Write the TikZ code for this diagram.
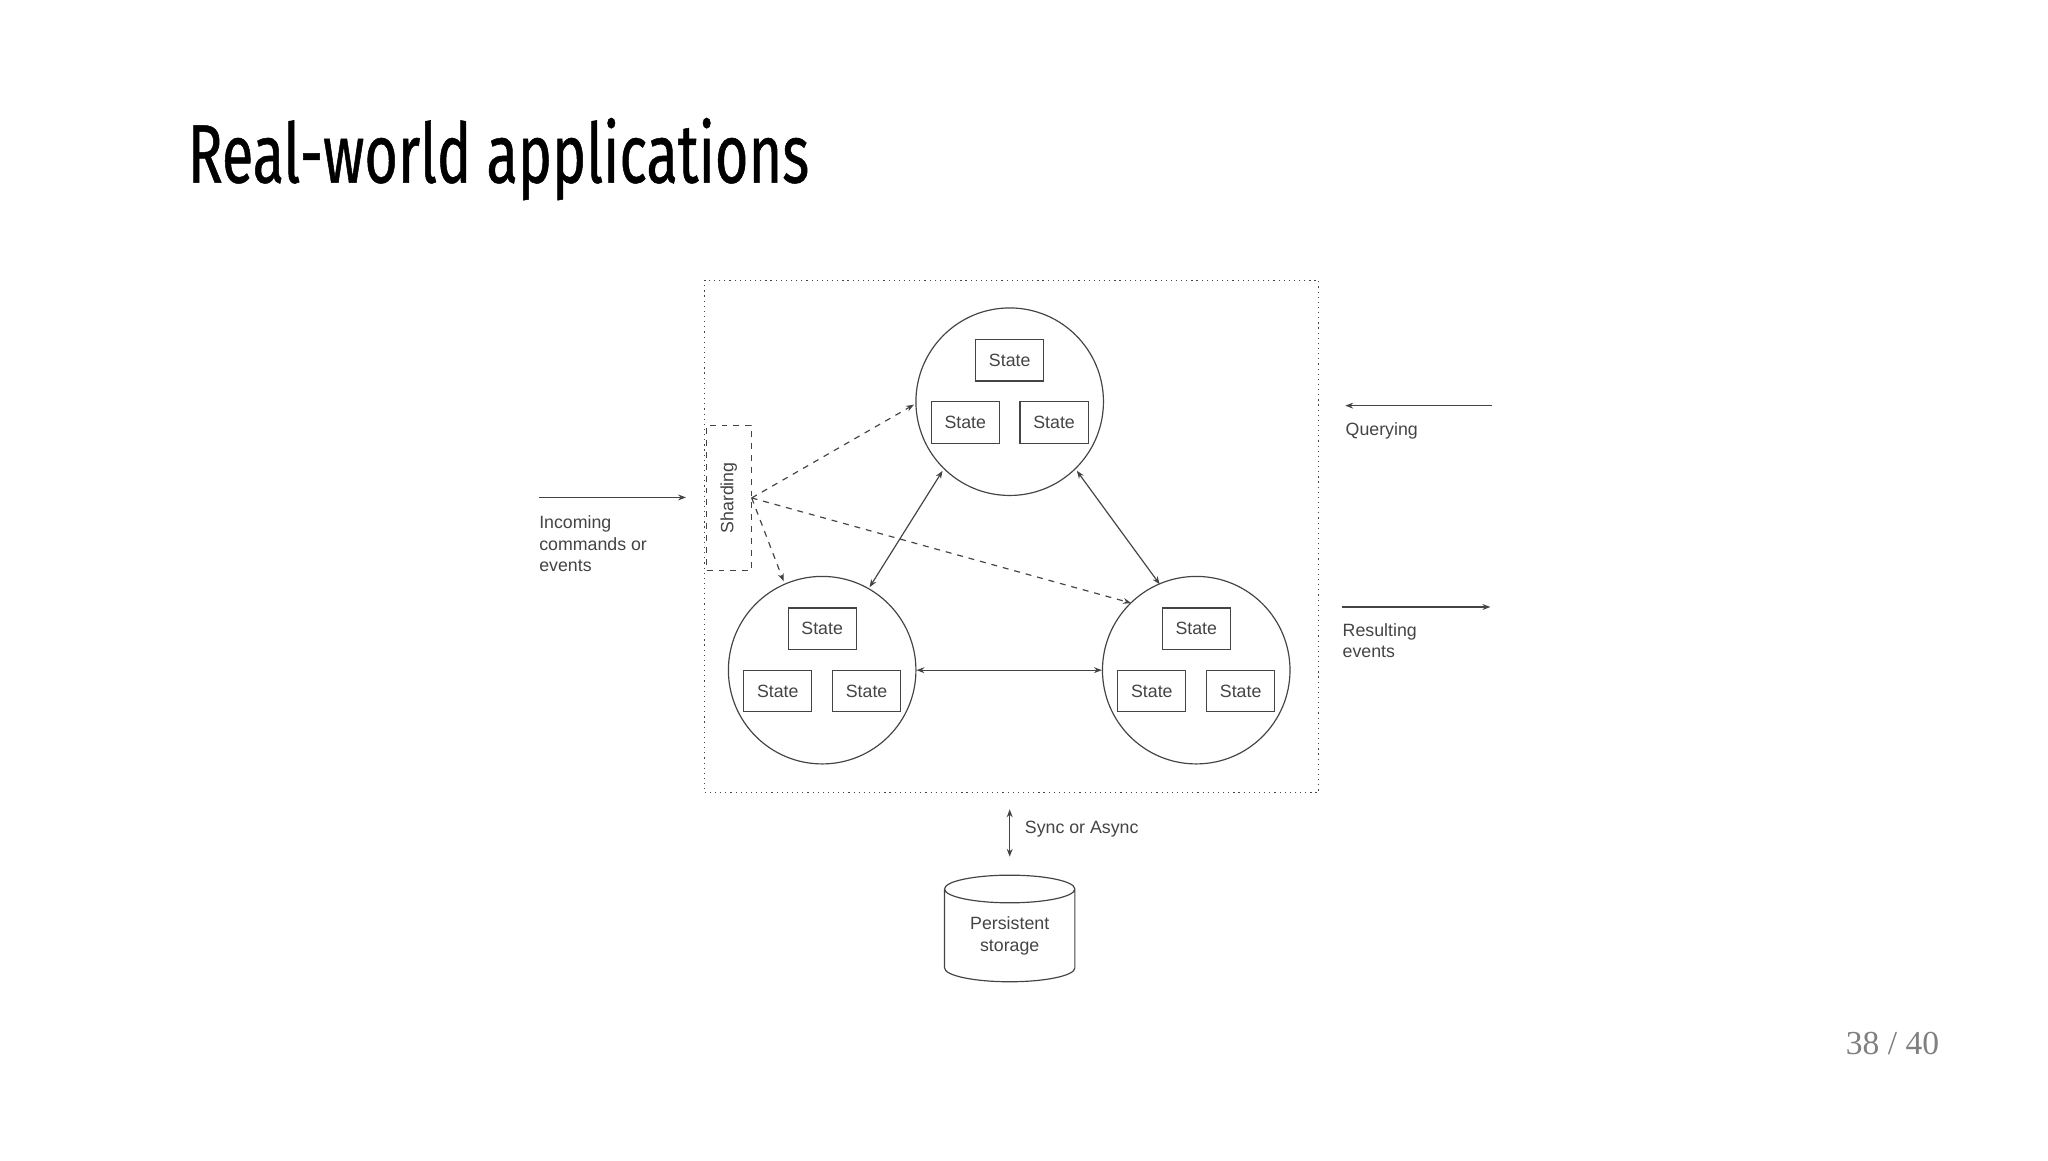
\documentclass[tikz,border=0pt]{standalone}
\usepackage{fontspec}
\setmainfont{Liberation Sans}
\newfontfamily\titlef[FakeStretch=0.695,FakeBold=0.6]{Fira Sans}
\newfontfamily\pagef{Liberation Serif}
\usetikzlibrary{arrows.meta,shapes.geometric,calc}
\definecolor{ink}{HTML}{444444}
\begin{document}
\begin{tikzpicture}[x=0.5pt,y=-0.5pt,
  every node/.style={text=ink,font=\fontsize{9}{11}\selectfont},
  circ/.style={circle,draw=ink,line width=0.6pt,minimum size=95pt,inner sep=0},
  st/.style={draw=ink,line width=0.6pt,minimum width=34.5pt,minimum height=21pt,inner sep=0},
  arr/.style={draw=ink,line width=0.6pt,-{Stealth[length=4pt,width=3pt]}},
  darr/.style={draw=ink,line width=0.6pt,{Stealth[length=4pt,width=3pt]}-{Stealth[length=4pt,width=3pt]}},
  darrow/.style={draw=ink,line width=0.6pt,dashed,-{Stealth[length=4pt,width=3pt]}},
  lbl/.style={align=left,anchor=north west,inner sep=0}]
\useasboundingbox (0,0) rectangle (2075,1176);
\node[anchor=base west,inner sep=0,text=black,font=\titlef\fontsize{42}{44}\selectfont] (title) at (190,185) {Real-world applications};
\node[anchor=base east,inner sep=0,text=gray,font=\pagef\fontsize{17}{19}\selectfont] (pg) at (1965,1068) {38 / 40};
\node[draw=ink,dotted,line width=0.6pt,minimum width=311pt,minimum height=259.5pt,inner sep=0] (outer) at (1025,543.5) {};
\node[circ] (T) at (1023,407) {};
\node[circ] (L) at (833,679) {};
\node[circ] (R) at (1212,679) {};
\foreach \c in {T,L,R}{
  \node[st] (\c1) at ($(\c)+(0,-42)$) {State};
  \node[st] (\c2) at ($(\c)+(-45,21)$) {State};
  \node[st] (\c3) at ($(\c)+(45,21)$) {State};
}
\node[draw=ink,dashed,line width=0.6pt,minimum width=22.5pt,minimum height=73.5pt,inner sep=0] (sh) at (738.5,504.5) {};
\node[rotate=90] (shl) at (sh) {Sharding};
\coordinate (sp) at (sh.east);
\draw[darrow] (sp) -- (926,410);
\draw[darrow] (sp) -- (794,589);
\draw[darrow] (sp) -- (1146,611);
\draw[darr] (955,477) -- (881,595);
\draw[darr] (1091,477) -- (1175,592);
\draw[darr] (L.east) -- (R.west);
\coordinate (i1) at (546,504); \coordinate (i2) at (695,504);
\draw[arr] (i1) -- (i2);
\node[lbl] (inc) at (546,522) {Incoming\\commands or\\events};
\coordinate (q1) at (1512,411); \coordinate (q2) at (1363,411);
\draw[arr] (q1) -- (q2);
\node[lbl] (qry) at (1363,428) {Querying};
\coordinate (r1) at (1360,615); \coordinate (r2) at (1510,615);
\draw[arr] (r1) -- (r2);
\node[lbl] (res) at (1360,631) {Resulting\\events};
\node[cylinder,shape border rotate=90,draw=ink,line width=0.6pt,minimum width=66pt,minimum height=54pt,aspect=0.35,align=center,inner sep=0] (db) at (1023,948) {Persistent\\storage};
\draw[darr] (1023,820) -- (1023,868);
\node[anchor=west,inner sep=0] (sy) at (1038,840) {Sync or Async};
\end{tikzpicture}
\end{document}
